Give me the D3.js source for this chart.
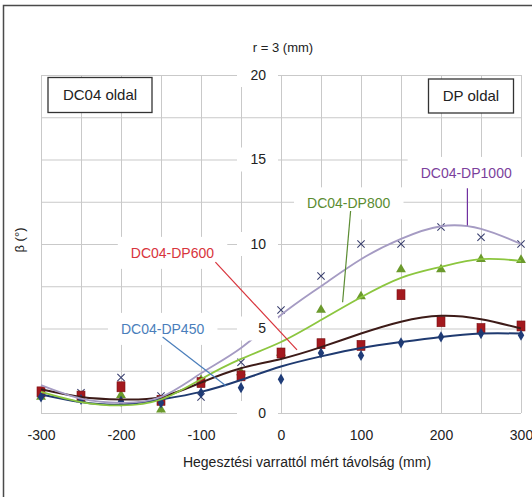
<!DOCTYPE html>
<html>
<head>
<meta charset="utf-8">
<script src="https://cdn.jsdelivr.net/npm/d3@7"></script>
<style>
  body { margin: 0; background: #fff; }
  svg { font-family: "Liberation Sans", Arial, sans-serif; }
</style>
</head>
<body>
<div id="chart"></div>
<script>
// distances from the weld (mm)
const distances = [-300, -250, -200, -150, -100, -50, 0, 50, 100, 150, 200, 250, 300]

// measured beta values (deg)
const dp450 = [0.95, 0.8, 0.7, 0.6, 1.2, 1.5, 2.0, 3.55, 3.4, 4.15, 4.5, 4.7, 4.6]
const dp600 = [1.25, 1.0, 1.55, 0.75, 1.8, 2.2, 3.55, 4.1, 4.0, 7.0, 5.4, 5.0, 5.15]
const dp800 = [0.95, 0.8, 1.05, 0.2, 1.95, 2.4, 3.55, 6.1, 6.9, 8.5, 8.5, 9.1, 9.05]
const dp1000 = [1.3, 1.2, 2.1, 1.0, 0.95, 3.0, 6.1, 8.1, 10.0, 10.0, 11.0, 10.4, 10.0]

// trend lines
const trend450 = [1.1, 0.65, 0.5, 0.8, 1.25, 1.95, 2.75, 3.35, 3.85, 4.2, 4.5, 4.7, 4.7]
const trend600 = [1.4, 0.95, 0.8, 0.95, 1.8, 2.65, 3.2, 3.9, 4.7, 5.4, 5.75, 5.55, 5.0]
const trend800 = [1.25, 0.65, 0.45, 0.8, 2.0, 3.2, 4.2, 5.5, 6.85, 8.0, 8.65, 9.1, 9.0]
const trend1000 = [1.65, 0.85, 0.6, 0.95, 2.35, 3.85, 5.8, 7.5, 9.1, 10.3, 11.05, 10.9, 10.0]

const seriesNames = ['DC04-DP450', 'DC04-DP600', 'DC04-DP800', 'DC04-DP1000']

const xTicks = [-300, -200, -100, 0, 100, 200, 300]
const yTicks = [0, 5, 10, 15, 20]

const width = 532
const height = 497

const svg = d3.select('#chart').append('svg')
  .attr('width', width)
  .attr('height', height)

const x = d3.scaleLinear().domain([-300, 300]).range([41, 521])
const y = d3.scaleLinear().domain([0, 20]).range([413, 75])

// outer frame
svg.append('rect')
  .attr('x', 3.5).attr('y', 5.5)
  .attr('width', 600).attr('height', 600)
  .attr('fill', 'none')
  .attr('stroke', '#4a4a4a')
  .attr('stroke-width', 1.5)

// grid
const grid = svg.append('g')
grid.append('g')
  .attr('transform', `translate(0,${y(0)})`)
  .call(d3.axisBottom(x).tickValues(d3.range(-300, 301, 50)).tickSize(y(20) - y(0)).tickFormat(''))
  .call(g => g.select('.domain').remove())
  .call(g => g.selectAll('line').attr('stroke', '#c9c9c9'))
grid.append('g')
  .attr('transform', `translate(${x(-300)},0)`)
  .call(d3.axisLeft(y).tickValues(d3.range(0, 20.1, 2.5)).tickSize(x(-300) - x(300)).tickFormat(''))
  .call(g => g.select('.domain').remove())
  .call(g => g.selectAll('line').attr('stroke', '#c9c9c9'))

// x tick labels
svg.append('g')
  .attr('transform', `translate(0,${y(0)})`)
  .call(d3.axisBottom(x).tickValues(xTicks).tickSize(0).tickPadding(17).tickFormat(d => String(d)))
  .call(g => g.select('.domain').remove())
  .call(g => g.selectAll('text').attr('font-size', 14).attr('fill', '#222').attr('font-family', null))

// markers
const mk = svg.append('g')
const pts = (vals) => distances.map((d, i) => ({ x: d, v: vals[i] }))

mk.selectAll('.x1000').data(pts(dp1000)).join('path')
  .attr('transform', d => `translate(${x(d.x)},${y(d.v)})`)
  .attr('d', d3.symbol(d3.symbolX, 36)())
  .attr('fill', 'none').attr('stroke', '#3b4170').attr('stroke-width', 1.1)

mk.selectAll('.tri').data(pts(dp800)).join('path')
  .attr('transform', d => `translate(${x(d.x)},${y(d.v)})`)
  .attr('d', d3.symbol(d3.symbolTriangle, 42)())
  .attr('fill', '#6b9a2c')

mk.selectAll('.sq').data(pts(dp600)).join('rect')
  .attr('x', d => x(d.x) - 4).attr('y', d => y(d.v) - 5)
  .attr('width', 8).attr('height', 10)
  .attr('fill', '#a3191e').attr('stroke', '#7a1214').attr('stroke-width', 0.6)

mk.selectAll('.dia').data(pts(dp450)).join('path')
  .attr('transform', d => `translate(${x(d.x)},${y(d.v)})`)
  .attr('d', d3.symbol(d3.symbolDiamond, 36)())
  .attr('fill', '#1f3c78')

// trend lines
const line = d3.line().x(d => x(d.x)).y(d => y(d.v)).curve(d3.curveNatural)
const trends = [
  { vals: trend450, color: '#1f3a70', w: 2 },
  { vals: trend600, color: '#3d1b18', w: 2 },
  { vals: trend800, color: '#8cc63f', w: 1.8 },
  { vals: trend1000, color: '#a59bc3', w: 1.8 }
]
trends.forEach(t => {
  svg.append('path')
    .datum(pts(t.vals))
    .attr('d', line)
    .attr('fill', 'none')
    .attr('stroke', t.color)
    .attr('stroke-width', t.w)
})

// y tick labels with white boxes
const yl = svg.append('g')
yTicks.forEach(t => {
  yl.append('rect')
    .attr('x', 237).attr('y', y(t) - 12)
    .attr('width', 41).attr('height', 24)
    .attr('fill', '#fff')
  yl.append('text')
    .attr('x', 266).attr('y', y(t))
    .attr('dy', '0.35em')
    .attr('text-anchor', 'end')
    .attr('font-size', 14)
    .attr('fill', '#222')
    .text(t)
})

// series labels with leader lines (placed in data coordinates)
const labels = [
  { text: seriesNames[3], color: '#7b3f9c', lc: '#7030a0', at: [231.5, 14.2], from: [233, 13.3], to: [233, 11.1] },
  { text: seriesNames[2], color: '#5b8c32', lc: '#5b8c32', at: [84.6, 12.4], from: [87, 11.95], to: [77, 6.55] },
  { text: seriesNames[1], color: '#d8343c', lc: '#d8343c', at: [-135.7, 9.47], from: [-82, 8.93], to: [20, 3.73] },
  { text: seriesNames[0], color: '#4a7ebb', lc: '#4a7ebb', at: [-148, 4.97], from: [-148, 4.5], to: [-68.5, 1.6] }
]
labels.forEach(l => {
  const g = svg.append('g')
  const txt = g.append('text')
    .attr('x', x(l.at[0])).attr('y', y(l.at[1]))
    .attr('dy', '0.35em')
    .attr('text-anchor', 'middle')
    .attr('font-size', 14)
    .attr('fill', l.color)
    .text(l.text)
  const bb = txt.node().getBBox()
  g.insert('rect', 'text')
    .attr('x', bb.x - 13).attr('y', bb.y - 8)
    .attr('width', bb.width + 26).attr('height', bb.height + 16)
    .attr('fill', '#fff')
  svg.append('line')
    .attr('x1', x(l.from[0])).attr('y1', y(l.from[1]))
    .attr('x2', x(l.to[0])).attr('y2', y(l.to[1]))
    .attr('stroke', l.lc).attr('stroke-width', 1.2)
})

// side boxes
const sideBox = (cx, cy, w, h, text) => {
  svg.append('rect')
    .attr('x', cx - w / 2).attr('y', cy - h / 2)
    .attr('width', w).attr('height', h)
    .attr('fill', '#fff').attr('stroke', '#333').attr('stroke-width', 1.3)
  svg.append('text')
    .attr('x', cx).attr('y', cy).attr('dy', '0.35em')
    .attr('text-anchor', 'middle')
    .attr('font-size', 15)
    .attr('fill', '#222')
    .text(text)
}
sideBox(100, 95, 104, 35, 'DC04 oldal')
sideBox(471, 96, 85, 34, 'DP oldal')

// titles
svg.append('text')
  .attr('x', 283).attr('y', 47).attr('dy', '0.35em')
  .attr('text-anchor', 'middle').attr('font-size', 13).attr('fill', '#222')
  .text('r = 3 (mm)')

svg.append('text')
  .attr('x', 307).attr('y', 462).attr('dy', '0.35em')
  .attr('text-anchor', 'middle').attr('font-size', 14).attr('fill', '#222')
  .text('Hegesztési varrattól mért távolság (mm)')

svg.append('text')
  .attr('transform', 'translate(19,240) rotate(-90)')
  .attr('dy', '0.35em')
  .attr('text-anchor', 'middle').attr('font-size', 13).attr('fill', '#222')
  .text('β (°)')
</script>
</body>
</html>
